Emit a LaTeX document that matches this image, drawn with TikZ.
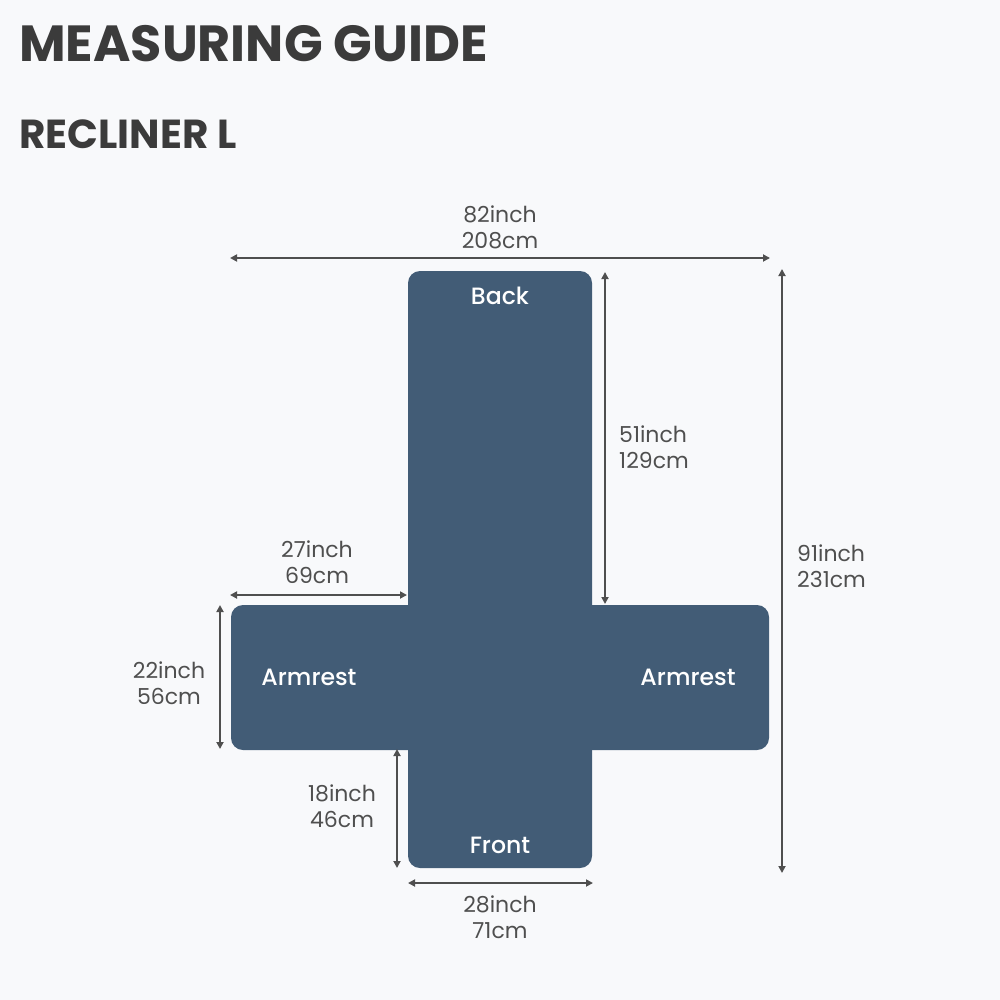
\documentclass[tikz,border=0pt]{standalone}
\usepackage{fontspec}
\setmainfont{Poppins}
\newfontfamily\popmed{Poppins Medium}
\usetikzlibrary{arrows.meta}
\definecolor{bgc}{HTML}{F8F9FB}
\definecolor{sofa}{HTML}{425C76}
\definecolor{titlec}{HTML}{3B3B3B}
\definecolor{dimc}{HTML}{4F4F4F}
\tikzset{
  bar/.style={fill=sofa, draw=none, rounded corners=12pt, inner sep=0pt},
  dim/.style={draw=dimc, line width=2.2pt, {Triangle[length=7pt,width=7pt]}-{Triangle[length=7pt,width=7pt]}},
  dimlabel/.style={text=dimc, align=center, inner sep=0pt, font=\fontsize{22}{26}\selectfont},
  partlabel/.style={text=white, inner sep=0pt, anchor=base, font=\popmed\fontsize{23.6}{26}\selectfont},
}
\begin{document}
\begin{tikzpicture}[x=1pt,y=-1pt]
\useasboundingbox (0,0) rectangle (1000,1000);
\fill[bgc] (0,0) rectangle (1000,1000);
% titles
\node[anchor=base west, inner sep=0pt, text=titlec, font=\bfseries\fontsize{50.8}{60}\selectfont] (title) at (19,62) {MEASURING GUIDE};
\node[anchor=base west, inner sep=0pt, text=titlec, font=\bfseries\fontsize{40.5}{44}\selectfont] (sub) at (19,149) {RECLINER L};
% shape
\fill[bar] (408,271) rectangle (592,868);
\fill[bar] (231,605) rectangle (769,750);
\coordinate (vtl) at (408,271); \coordinate (vtr) at (592,271);
\coordinate (vbl) at (408,868); \coordinate (vbr) at (592,868);
\coordinate (htl) at (231,605); \coordinate (htr) at (769,605);
\coordinate (hbl) at (231,750); \coordinate (hbr) at (769,750);
% part labels
\node[partlabel] (back) at (500,304) {Back};
\node[partlabel] (arml) at (309,685) {Armrest};
\node[partlabel] (armr) at (688,685) {Armrest};
\node[partlabel] (front) at (500,853) {Front};
% dimension end points
\coordinate (a1) at (230,258); \coordinate (a2) at (770,258);
\coordinate (b1) at (605,272); \coordinate (b2) at (605,604);
\coordinate (c1) at (782,269); \coordinate (c2) at (782,873);
\coordinate (d1) at (230,595); \coordinate (d2) at (407,595);
\coordinate (e1) at (220,605); \coordinate (e2) at (220,749);
\coordinate (f1) at (397,749); \coordinate (f2) at (397,868);
\coordinate (g1) at (408,883); \coordinate (g2) at (593,883);
\draw[dim] (a1) -- (a2);
\draw[dim] (b1) -- (b2);
\draw[dim] (c1) -- (c2);
\draw[dim] (d1) -- (d2);
\draw[dim] (e1) -- (e2);
\draw[dim] (f1) -- (f2);
\draw[dim] (g1) -- (g2);
% dimension labels
\node[dimlabel] (la) at (500,227) {82inch\\208cm};
\node[dimlabel, anchor=west, align=left] (lb) at (619,447) {51inch\\129cm};
\node[dimlabel, anchor=west, align=left] (lc) at (797,566) {91inch\\231cm};
\node[dimlabel] (ld) at (317,562) {27inch\\69cm};
\node[dimlabel] (le) at (169,683) {22inch\\56cm};
\node[dimlabel] (lf) at (342,806) {18inch\\46cm};
\node[dimlabel] (lg) at (500,917) {28inch\\71cm};
\end{tikzpicture}
\end{document}
